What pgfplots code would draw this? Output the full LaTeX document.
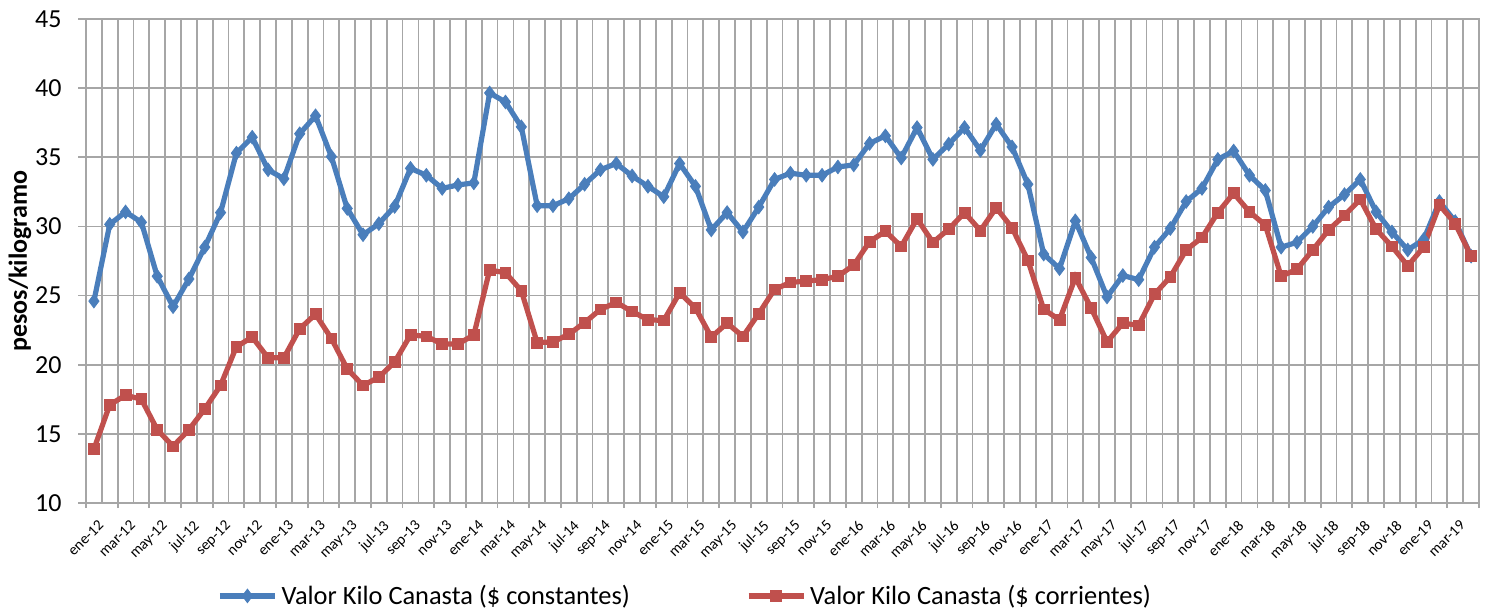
\documentclass[border=0pt]{standalone}
\usepackage{pgfplots}
\pgfplotsset{compat=1.18}
\usepackage{pgfplotstable}
\usepackage{fontspec}
\setmainfont{Carlito}
\definecolor{gridc}{RGB}{166,166,166}
\definecolor{sblue}{RGB}{74,126,187}
\definecolor{sred}{RGB}{192,80,77}
\pgfplotstableread{
x y
0 24.6
1 30.15
2 31.05
3 30.3
4 26.4
5 24.2
6 26.2
7 28.5
8 31.0
9 35.3
10 36.45
11 34.1
12 33.45
13 36.7
14 38.0
15 35.05
16 31.3
17 29.4
18 30.2
19 31.45
20 34.2
21 33.7
22 32.75
23 33.0
24 33.15
25 39.65
26 39.0
27 37.2
28 31.5
29 31.5
30 32.0
31 33.05
32 34.1
33 34.55
34 33.65
35 32.9
36 32.15
37 34.55
38 32.9
39 29.75
40 31.0
41 29.6
42 31.4
43 33.4
44 33.85
45 33.7
46 33.7
47 34.3
48 34.45
49 36.0
50 36.55
51 34.95
52 37.15
53 34.85
54 35.95
55 37.15
56 35.5
57 37.4
58 35.75
59 33.05
60 28.0
61 26.95
62 30.4
63 27.75
64 24.9
65 26.45
66 26.15
67 28.5
68 29.85
69 31.8
70 32.75
71 34.85
72 35.45
73 33.7
74 32.6
75 28.5
76 28.85
77 30.0
78 31.4
79 32.3
80 33.4
81 31.05
82 29.6
83 28.3
84 29.05
85 31.8
86 30.35
87 27.85
}\constantes
\pgfplotstableread{
x y
0 13.9
1 17.1
2 17.8
3 17.5
4 15.3
5 14.1
6 15.3
7 16.8
8 18.5
9 21.3
10 22.0
11 20.5
12 20.5
13 22.6
14 23.65
15 21.9
16 19.7
17 18.5
18 19.1
19 20.2
20 22.15
21 22.05
22 21.5
23 21.5
24 22.15
25 26.85
26 26.65
27 25.35
28 21.6
29 21.65
30 22.2
31 23.05
32 24.0
33 24.5
34 23.85
35 23.25
36 23.2
37 25.2
38 24.1
39 22.0
40 23.0
41 22.05
42 23.7
43 25.45
44 25.95
45 26.05
46 26.15
47 26.4
48 27.2
49 28.9
50 29.65
51 28.55
52 30.55
53 28.85
54 29.8
55 31.0
56 29.7
57 31.35
58 29.9
59 27.55
60 24.0
61 23.25
62 26.3
63 24.1
64 21.65
65 23.0
66 22.85
67 25.1
68 26.35
69 28.3
70 29.2
71 31.0
72 32.4
73 31.05
74 30.1
75 26.4
76 26.9
77 28.3
78 29.75
79 30.8
80 31.95
81 29.8
82 28.55
83 27.15
84 28.5
85 31.55
86 30.2
87 27.85
}\corrientes
\begin{document}
\begin{tikzpicture}
\useasboundingbox (0,0) rectangle (745.5pt,305.5pt);
\begin{axis}[
  at={(43pt,54pt)}, anchor=south west,
  scale only axis, width=696.5pt, height=242pt,
  xmin=-0.5, xmax=87.5, ymin=10, ymax=45,
  ytick={10,15,...,45},
  xtick={0,2,...,86},
  xticklabels={ene-12,mar-12,may-12,jul-12,sep-12,nov-12,
    ene-13,mar-13,may-13,jul-13,sep-13,nov-13,
    ene-14,mar-14,may-14,jul-14,sep-14,nov-14,
    ene-15,mar-15,may-15,jul-15,sep-15,nov-15,
    ene-16,mar-16,may-16,jul-16,sep-16,nov-16,
    ene-17,mar-17,may-17,jul-17,sep-17,nov-17,
    ene-18,mar-18,may-18,jul-18,sep-18,nov-18,
    ene-19,mar-19},
  minor xtick={-0.5,0.5,...,87.5},
  xminorgrids=true, ymajorgrids=true,
  grid style={gridc, line width=0.9pt},
  minor grid style={gridc, line width=0.9pt},
  axis line style={gridc, line width=0.9pt},
  tick align=outside,
  x tick style={draw=none},
  minor x tick style={draw=none},
  y tick style={gridc, line width=0.9pt},
  major tick length=4pt,
  extra x ticks={-0.5,1.5,...,87.5},
  extra x tick labels={},
  extra x tick style={xmajorgrids=false, x tick style={draw=gridc, line width=0.9pt}, major tick length=2.5pt},
  ytick pos=left, xtick pos=bottom,
  /pgf/number format/assume math mode=true,
  yticklabel style={font=\fontsize{13}{15}\selectfont, inner sep=0pt, xshift=-8pt},
  xticklabel style={font=\fontsize{7.6}{9}\selectfont, rotate=45, anchor=north east, inner sep=0pt, yshift=-4pt, xshift=-1.5pt},
  ylabel={\bfseries pesos/kilogramo},
  ylabel style={font=\fontsize{13}{15}\selectfont, at={(axis description cs:-0.0474,0.5)}, anchor=center},
  legend columns=2,
  legend style={draw=none, fill=none, at={(axis description cs:0.094,-0.192)}, anchor=west,
    font=\fontsize{13.2}{15}\selectfont, inner sep=0pt,
    /tikz/every even column/.append style={column sep=56pt}},
  legend image code/.code={\draw[mark repeat=2,mark phase=2,#1] plot coordinates {(0pt,0pt) (13.75pt,0pt) (27.5pt,0pt)};},
]
\addplot[sblue, line width=2.6pt, mark=diamond*, mark size=3.4pt, mark options={solid, line width=0.4pt, fill=sblue}] table[x=x,y=y] {\constantes};
\addlegendentry{Valor Kilo Canasta (\$ constantes)}
\addplot[sred, line width=2.6pt, mark=square*, mark size=2.7pt, mark options={solid, line width=0.4pt, fill=sred}] table[x=x,y=y] {\corrientes};
\addlegendentry{Valor Kilo Canasta (\$ corrientes)}
\end{axis}
\end{tikzpicture}
\end{document}
